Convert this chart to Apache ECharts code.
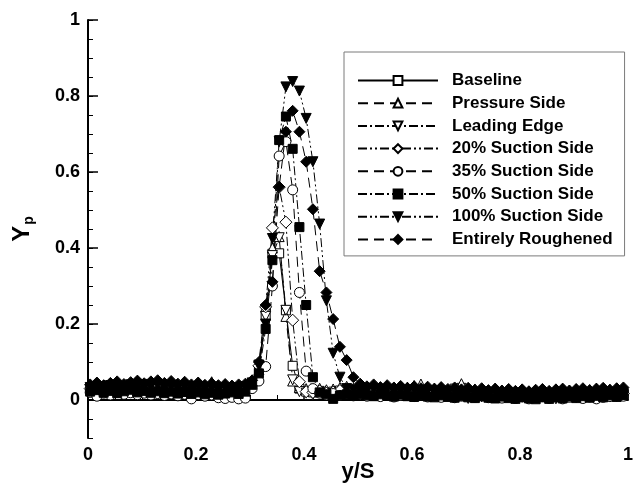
<!DOCTYPE html>
<html>
<head>
<meta charset="utf-8">
<script src="https://cdn.jsdelivr.net/npm/echarts@6/dist/echarts.min.js"></script>
<style>
  html, body { margin: 0; padding: 0; background: #fff; }
  #chart { width: 637px; height: 485px; }
</style>
</head>
<body>
<div id="chart"></div>
<script>
// y/S positions of the measured points (shared by every configuration)
const yS = [
  0.004, 0.0165, 0.029, 0.0415, 0.054, 0.0665, 0.079, 0.0915, 0.104, 0.1165,
  0.129, 0.1415, 0.154, 0.1665, 0.179, 0.1915, 0.204, 0.2165, 0.229, 0.2415,
  0.254, 0.2665, 0.279, 0.2915, 0.304, 0.3165, 0.329, 0.3415, 0.354, 0.3665,
  0.379, 0.3915, 0.404, 0.4165, 0.429, 0.4415, 0.454, 0.4665, 0.479, 0.4915,
  0.504, 0.5165, 0.529, 0.5415, 0.554, 0.5665, 0.579, 0.5915, 0.604, 0.6165,
  0.629, 0.6415, 0.654, 0.6665, 0.679, 0.6915, 0.704, 0.7165, 0.729, 0.7415,
  0.754, 0.7665, 0.779, 0.7915, 0.804, 0.8165, 0.829, 0.8415, 0.854, 0.8665,
  0.879, 0.8915, 0.904, 0.9165, 0.929, 0.9415, 0.954, 0.9665, 0.979, 0.9915
];

const baseline = [
  0.030, 0.034, 0.026, 0.031, 0.036, 0.028, 0.034, 0.030, 0.027, 0.035,
  0.031, 0.026, 0.030, 0.025, 0.028, 0.024, 0.027, 0.023, 0.026, 0.022,
  0.025, 0.023, 0.027, 0.030, 0.045, 0.080, 0.220, 0.385, 0.386, 0.236,
  0.090, 0.030, 0.022, 0.020, 0.024, 0.019, 0.022, 0.025, 0.028, 0.026,
  0.024, 0.027, 0.022, 0.025, 0.021, 0.026, 0.020, 0.024, 0.019, 0.021,
  0.018, 0.022, 0.024, 0.019, 0.030, 0.032, 0.021, 0.017, 0.021, 0.016,
  0.018, 0.013, 0.017, 0.012, 0.016, 0.011, 0.015, 0.010, 0.014, 0.009,
  0.013, 0.016, 0.018, 0.013, 0.016, 0.012, 0.018, 0.015, 0.019, 0.021
];
const pressureSide = [
  0.037, 0.033, 0.039, 0.034, 0.032, 0.038, 0.040, 0.034, 0.039, 0.033,
  0.037, 0.041, 0.034, 0.039, 0.033, 0.030, 0.035, 0.029, 0.048, 0.031,
  0.030, 0.028, 0.033, 0.035, 0.048, 0.080, 0.245, 0.400, 0.430, 0.220,
  0.050, 0.033, 0.030, 0.028, 0.031, 0.027, 0.029, 0.033, 0.036, 0.031,
  0.029, 0.032, 0.036, 0.028, 0.034, 0.027, 0.030, 0.034, 0.038, 0.042,
  0.028, 0.031, 0.027, 0.026, 0.030, 0.043, 0.025, 0.029, 0.024, 0.026,
  0.030, 0.025, 0.028, 0.024, 0.027, 0.023, 0.026, 0.029, 0.024, 0.027,
  0.023, 0.026, 0.029, 0.024, 0.027, 0.030, 0.025, 0.028, 0.031, 0.026
];
const leadingEdge = [
  0.025, 0.029, 0.022, 0.027, 0.021, 0.025, 0.029, 0.022, 0.027, 0.020,
  0.024, 0.027, 0.021, 0.025, 0.019, 0.024, 0.018, 0.023, 0.017, 0.021,
  0.019, 0.022, 0.018, 0.024, 0.040, 0.092, 0.220, 0.380, 0.427, 0.236,
  0.053, 0.022, 0.018, 0.014, 0.019, 0.013, 0.017, 0.012, 0.016, 0.011,
  0.015, 0.011, 0.016, 0.010, 0.014, 0.009, 0.013, 0.015, 0.010, 0.014,
  0.009, 0.013, 0.008, 0.012, 0.006, 0.011, 0.004, 0.012, 0.008, 0.006,
  0.011, 0.007, 0.012, 0.005, 0.010, 0.004, 0.009, 0.011, 0.006, 0.003,
  0.009, 0.011, 0.006, 0.010, 0.012, 0.007, 0.011, 0.013, 0.008, 0.012
];
const suction20 = [
  0.030, 0.026, 0.033, 0.028, 0.032, 0.035, 0.029, 0.033, 0.027, 0.031,
  0.034, 0.029, 0.026, 0.031, 0.025, 0.029, 0.024, 0.028, 0.022, 0.027,
  0.024, 0.028, 0.023, 0.029, 0.050, 0.090, 0.245, 0.453, 0.560, 0.468,
  0.210, 0.048, 0.022, 0.020, 0.024, 0.018, 0.021, 0.025, 0.019, 0.023,
  0.018, 0.022, 0.025, 0.019, 0.023, 0.017, 0.020, 0.023, 0.018, 0.021,
  0.016, 0.020, 0.015, 0.019, 0.014, 0.018, 0.013, 0.017, 0.012, 0.016,
  0.014, 0.017, 0.011, 0.016, 0.010, 0.014, 0.016, 0.011, 0.015, 0.010,
  0.014, 0.017, 0.012, 0.015, 0.018, 0.013, 0.016, 0.019, 0.014, 0.017
];
const suction35 = [
  0.020, 0.010, 0.018, 0.013, 0.020, 0.015, 0.019, 0.014, 0.018, 0.013,
  0.017, 0.012, 0.016, 0.011, 0.015, 0.003, 0.014, 0.010, 0.013, 0.006,
  0.004, 0.007, 0.003, 0.005, 0.030, 0.050, 0.088, 0.300, 0.642, 0.680,
  0.553, 0.283, 0.076, 0.030, 0.018, 0.013, 0.017, 0.012, 0.016, 0.011,
  0.015, 0.010, 0.014, 0.009, 0.013, 0.008, 0.012, 0.014, 0.009, 0.013,
  0.008, 0.012, 0.007, 0.011, 0.006, 0.010, 0.012, 0.007, 0.011, 0.006,
  0.010, 0.005, 0.009, 0.004, 0.008, 0.003, 0.007, 0.009, 0.004, 0.008,
  0.003, 0.007, 0.009, 0.004, 0.008, 0.003, 0.007, 0.009, 0.012, 0.010
];
const suction50 = [
  0.022, 0.026, 0.019, 0.024, 0.018, 0.023, 0.027, 0.020, 0.024, 0.019,
  0.023, 0.018, 0.022, 0.017, 0.021, 0.016, 0.020, 0.015, 0.019, 0.014,
  0.017, 0.020, 0.016, 0.022, 0.040, 0.070, 0.187, 0.368, 0.684, 0.746,
  0.661, 0.455, 0.250, 0.060, 0.020, 0.015, 0.003, 0.012, 0.015, 0.011,
  0.016, 0.012, 0.010, 0.015, 0.011, 0.009, 0.014, 0.010, 0.008, 0.013,
  0.009, 0.007, 0.012, 0.008, 0.006, 0.011, 0.007, 0.005, 0.010, 0.006,
  0.004, 0.009, 0.005, 0.003, 0.008, 0.004, 0.002, 0.007, 0.003, 0.008,
  0.004, 0.009, 0.005, 0.010, 0.006, 0.011, 0.007, 0.012, 0.008, 0.013
];
const suction100 = [
  0.033, 0.029, 0.035, 0.038, 0.030, 0.036, 0.040, 0.032, 0.041, 0.035,
  0.039, 0.032, 0.037, 0.031, 0.036, 0.030, 0.035, 0.029, 0.033, 0.028,
  0.031, 0.028, 0.032, 0.035, 0.045, 0.090, 0.200, 0.425, 0.680, 0.824,
  0.838, 0.813, 0.741, 0.627, 0.463, 0.261, 0.123, 0.060, 0.030, 0.027,
  0.029, 0.024, 0.028, 0.023, 0.027, 0.022, 0.026, 0.021, 0.025, 0.020,
  0.024, 0.019, 0.023, 0.018, 0.022, 0.017, 0.021, 0.016, 0.020, 0.015,
  0.019, 0.014, 0.018, 0.013, 0.017, 0.012, 0.016, 0.018, 0.013, 0.017,
  0.012, 0.016, 0.018, 0.013, 0.017, 0.019, 0.014, 0.018, 0.020, 0.016
];
const entirely = [
  0.041, 0.046, 0.039, 0.045, 0.049, 0.042, 0.047, 0.051, 0.044, 0.049,
  0.052, 0.045, 0.050, 0.043, 0.048, 0.041, 0.046, 0.040, 0.044, 0.039,
  0.042, 0.038, 0.041, 0.043, 0.052, 0.100, 0.250, 0.311, 0.561, 0.706,
  0.761, 0.706, 0.627, 0.502, 0.339, 0.283, 0.213, 0.140, 0.105, 0.060,
  0.043, 0.036, 0.041, 0.034, 0.039, 0.033, 0.037, 0.032, 0.036, 0.031,
  0.035, 0.030, 0.034, 0.029, 0.033, 0.028, 0.032, 0.027, 0.031, 0.026,
  0.030, 0.025, 0.029, 0.024, 0.028, 0.023, 0.027, 0.029, 0.024, 0.028,
  0.030, 0.025, 0.029, 0.031, 0.026, 0.030, 0.032, 0.027, 0.031, 0.033
];

const names = [
  "Baseline", "Pressure Side", "Leading Edge", "20% Suction Side",
  "35% Suction Side", "50% Suction Side", "100% Suction Side", "Entirely Roughened"
];
const values = [baseline, pressureSide, leadingEdge, suction20, suction35, suction50, suction100, entirely];

const FONT = "Liberation Sans, Arial, Helvetica, sans-serif";
const DASH = [10, 6];
const DASH_DOT = [9, 3, 2, 3];
const DASH_DOT_DOT = [9, 3, 2, 3, 2, 3];

// marker / line look for each series
const looks = [
  { symbol: "rect", rotate: 0, fill: "#fff", size: 9, line: "solid" },
  { symbol: "triangle", rotate: 0, fill: "#fff", size: 10, line: DASH },
  { symbol: "triangle", rotate: 180, fill: "#fff", size: 10, line: DASH_DOT },
  { symbol: "diamond", rotate: 0, fill: "#fff", size: 12, line: DASH_DOT_DOT },
  { symbol: "circle", rotate: 0, fill: "#fff", size: 10, line: DASH },
  { symbol: "rect", rotate: 0, fill: "#000", size: 9, line: DASH_DOT },
  { symbol: "triangle", rotate: 180, fill: "#000", size: 10, line: DASH_DOT_DOT },
  { symbol: "diamond", rotate: 0, fill: "#000", size: 11, line: DASH }
];

const series = names.map((name, k) => ({
  name: name,
  type: "line",
  data: yS.map((x, i) => [x, values[k][i]]),
  symbol: looks[k].symbol,
  symbolRotate: looks[k].rotate,
  symbolSize: looks[k].size,
  showAllSymbol: true,
  itemStyle: { color: looks[k].fill, borderColor: "#000", borderWidth: 1 },
  lineStyle: { color: "#000", width: 1, type: looks[k].line },
  emphasis: { disabled: true },
  animation: false
}));

const chart = echarts.init(document.getElementById("chart"));
chart.setOption({
  backgroundColor: "#fff",
  animation: false,
  grid: { left: 88, top: 20, right: 9, bottom: 47, containLabel: false, outerBoundsMode: "none" },
  legend: {
    orient: "vertical",
    left: 344,
    top: 52,
    padding: [20, 12, 8, 13],
    backgroundColor: "#fff",
    borderColor: "#7a7a7a",
    borderWidth: 1,
    itemWidth: 80,
    itemHeight: 11,
    itemGap: 5.7,
    textStyle: {
      fontFamily: FONT,
      fontWeight: "bold",
      fontSize: 17,
      color: "#000",
      lineHeight: 17,
      padding: [0, 0, 0, 9]
    },
    data: names
  },
  xAxis: {
    type: "value",
    min: 0,
    max: 1,
    interval: 0.2,
    name: "y/S",
    nameLocation: "middle",
    nameGap: 23,
    nameMoveOverlap: false,
    nameTextStyle: { fontFamily: FONT, fontWeight: "bold", fontSize: 22, color: "#000" },
    axisLine: { lineStyle: { color: "#000", width: 2 } },
    axisTick: { inside: true, length: 10, lineStyle: { color: "#000", width: 1.5 } },
    minorTick: { show: true, splitNumber: 4, length: 5, lineStyle: { color: "#000", width: 1 } },
    axisLabel: { fontFamily: FONT, fontWeight: "bold", fontSize: 18, color: "#000", margin: 8 },
    splitLine: { show: false },
    minorSplitLine: { show: false }
  },
  yAxis: [
    {
      type: "value",
      min: -0.1,
      max: 1,
      position: "left",
      name: "{y|Y}{p|p}",
      nameLocation: "middle",
      nameRotate: 90,
      nameGap: 52,
      nameMoveOverlap: false,
      nameTextStyle: {
        rich: {
          y: { fontFamily: FONT, fontWeight: "bold", fontSize: 24, color: "#000", lineHeight: 28 },
          p: { fontFamily: FONT, fontWeight: "bold", fontSize: 14, color: "#000", lineHeight: 28, verticalAlign: "bottom", padding: [8, 0, 0, 1] }
        }
      },
      axisLine: { show: true, lineStyle: { color: "#000", width: 2 } },
      axisTick: { inside: true, length: 10, customValues: [0, 0.2, 0.4, 0.6, 0.8, 1], lineStyle: { color: "#000", width: 1.5 } },
      axisLabel: {
        customValues: [0, 0.2, 0.4, 0.6, 0.8, 1],
        fontFamily: FONT, fontWeight: "bold", fontSize: 18, color: "#000", margin: 8
      },
      splitLine: { show: false }
    },
    {
      // minor ticks every 0.05
      type: "value",
      min: -0.1,
      max: 1,
      interval: 0.05,
      position: "left",
      axisLine: { show: false },
      axisTick: { inside: true, length: 5, lineStyle: { color: "#000", width: 1 } },
      axisLabel: { show: false },
      splitLine: { show: false }
    }
  ],
  series: series
});
</script>
</body>
</html>
